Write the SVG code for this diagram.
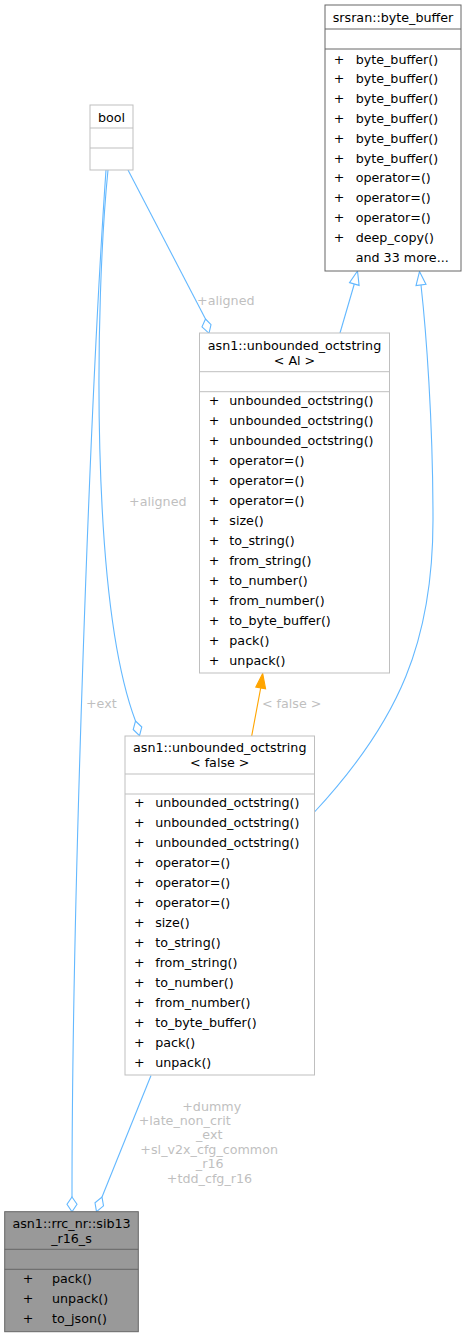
<svg xmlns="http://www.w3.org/2000/svg" width="467" height="1337" viewBox="0 0 467 1337">
<style>
text{font-family:"DejaVu Sans","Noto Sans",sans-serif;font-size:12.7px;fill:#000}
.t{text-anchor:middle}
.lb{fill:#bfbfbf;text-anchor:middle}
.box{fill:#fff;stroke:#bfbfbf;stroke-width:1}
.dk{fill:#fff;stroke:#666;stroke-width:1}
.sel{fill:#999;stroke:#666;stroke-width:1}
.sep{stroke:#bfbfbf;stroke-width:1}
.sepd{stroke:#666;stroke-width:1}
.e{fill:none;stroke:#63b8ff;stroke-width:1.1}
.ah{fill:#fff;stroke:#63b8ff;stroke-width:1.1}
.o{fill:none;stroke:#ffa500;stroke-width:1.1}
.oh{fill:#ffa500;stroke:#ffa500;stroke-width:1.1}
</style>
<rect width="467" height="1337" fill="#fff"/>
<g id="connectors">
<path class="e" d="M340,333 L354.3,284"/>
<polygon class="ah" points="357.5,271 359.1,285.4 349.5,282.6"/>
<path class="e" d="M314.5,812 C400,720 433,640 433,520 C433,420 426,330 421,285"/>
<polygon class="ah" points="419.5,271.5 426,284.4 416,285.6"/>
<path class="e" d="M128,170 L205.5,319"/>
<polygon class="ah" points="205.5,319 211,324.6 209,333.3 202,326.8"/>
<text class="lb" x="225.8" y="304.5">+aligned</text>
<path class="e" d="M108,170 C95,300 90,600 135.5,721"/>
<polygon class="ah" points="135.5,721 141.8,727 139.5,735.7 133.2,729.5"/>
<text class="lb" x="157.8" y="506">+aligned</text>
<path class="e" d="M106,170 C90,400 72,900 72,1197"/>
<polygon class="ah" points="72,1197 77,1204.3 72,1211.7 67,1204.3"/>
<text class="lb" x="101.3" y="707.5">+ext</text>
<path class="o" d="M251.7,736 L260.7,688"/>
<polygon class="oh" points="262.7,673.5 265.6,688.9 255.8,687.1"/>
<text class="lb" x="291.7" y="707.5">&lt; false &gt;</text>
<path class="e" d="M151,1075.5 L102,1197"/>
<polygon class="ah" points="102,1197 103.5,1205.9 96.5,1211.7 95,1202.8"/>
<text class="lb" x="211.7" y="1110.5">+dummy</text>
<text class="lb" x="184.7" y="1124.8">+late_non_crit</text>
<text class="lb" x="209.2" y="1139.3">_ext</text>
<text class="lb" x="209.2" y="1154.3">+sl_v2x_cfg_common</text>
<text class="lb" x="209.7" y="1168.3">_r16</text>
<text class="lb" x="209.5" y="1182.5">+tdd_cfg_r16</text>
</g>
<g id="node_byte_buffer">
<rect class="dk" x="325" y="5" width="136" height="266"/>
<line class="sepd" x1="325" y1="29" x2="461" y2="29"/>
<line class="sepd" x1="325" y1="49" x2="461" y2="49"/>
<text class="t" x="393" y="21.5">srsran::byte_buffer</text>
<g class="t">
<text x="339" y="63.5">+</text><text x="339" y="83.3">+</text><text x="339" y="103.1">+</text><text x="339" y="122.9">+</text><text x="339" y="142.7">+</text><text x="339" y="162.5">+</text><text x="339" y="182.3">+</text><text x="339" y="202.1">+</text><text x="339" y="221.9">+</text><text x="339" y="241.7">+</text>
</g>
<text x="355.7" y="63.5">byte_buffer()</text>
<text x="355.7" y="83.3">byte_buffer()</text>
<text x="355.7" y="103.1">byte_buffer()</text>
<text x="355.7" y="122.9">byte_buffer()</text>
<text x="355.7" y="142.7">byte_buffer()</text>
<text x="355.7" y="162.5">byte_buffer()</text>
<text x="355.7" y="182.3">operator=()</text>
<text x="355.7" y="202.1">operator=()</text>
<text x="355.7" y="221.9">operator=()</text>
<text x="355.7" y="241.7">deep_copy()</text>
<text x="355.7" y="261.5">and 33 more...</text>
</g>
<g id="node_bool">
<rect class="box" x="90" y="105" width="43" height="65"/>
<line class="sep" x1="90" y1="128" x2="133" y2="128"/>
<line class="sep" x1="90" y1="148" x2="133" y2="148"/>
<text class="t" x="111.5" y="121.5">bool</text>
</g>
<g id="node_octstring_Al">
<rect class="box" x="199.5" y="333" width="190" height="340"/>
<line class="sep" x1="199.5" y1="371.7" x2="389.5" y2="371.7"/>
<line class="sep" x1="199.5" y1="391.7" x2="389.5" y2="391.7"/>
<text class="t" x="294.5" y="349.5">asn1::unbounded_octstring</text>
<text class="t" x="294.5" y="364.5">&lt; Al &gt;</text>
<g class="t">
<text x="214" y="405.2">+</text><text x="214" y="425.2">+</text><text x="214" y="445.2">+</text><text x="214" y="465.2">+</text><text x="214" y="485.2">+</text><text x="214" y="505.2">+</text><text x="214" y="525.2">+</text><text x="214" y="545.2">+</text><text x="214" y="565.2">+</text><text x="214" y="585.2">+</text><text x="214" y="605.2">+</text><text x="214" y="625.2">+</text><text x="214" y="645.2">+</text><text x="214" y="665.2">+</text>
</g>
<text x="229.3" y="405.2">unbounded_octstring()</text>
<text x="229.3" y="425.2">unbounded_octstring()</text>
<text x="229.3" y="445.2">unbounded_octstring()</text>
<text x="229.3" y="465.2">operator=()</text>
<text x="229.3" y="485.2">operator=()</text>
<text x="229.3" y="505.2">operator=()</text>
<text x="229.3" y="525.2">size()</text>
<text x="229.3" y="545.2">to_string()</text>
<text x="229.3" y="565.2">from_string()</text>
<text x="229.3" y="585.2">to_number()</text>
<text x="229.3" y="605.2">from_number()</text>
<text x="229.3" y="625.2">to_byte_buffer()</text>
<text x="229.3" y="645.2">pack()</text>
<text x="229.3" y="665.2">unpack()</text>
</g>
<g id="node_octstring_false">
<rect class="box" x="125" y="736" width="189.5" height="339"/>
<line class="sep" x1="125" y1="774" x2="314.5" y2="774"/>
<line class="sep" x1="125" y1="794" x2="314.5" y2="794"/>
<text class="t" x="219.75" y="752.3">asn1::unbounded_octstring</text>
<text class="t" x="219.75" y="767">&lt; false &gt;</text>
<g class="t">
<text x="139.3" y="807.2">+</text><text x="139.3" y="827.2">+</text><text x="139.3" y="847.2">+</text><text x="139.3" y="867.2">+</text><text x="139.3" y="887.2">+</text><text x="139.3" y="907.2">+</text><text x="139.3" y="927.2">+</text><text x="139.3" y="947.2">+</text><text x="139.3" y="967.2">+</text><text x="139.3" y="987.2">+</text><text x="139.3" y="1007.2">+</text><text x="139.3" y="1027.2">+</text><text x="139.3" y="1047.2">+</text><text x="139.3" y="1067.2">+</text>
</g>
<text x="155.2" y="807.2">unbounded_octstring()</text>
<text x="155.2" y="827.2">unbounded_octstring()</text>
<text x="155.2" y="847.2">unbounded_octstring()</text>
<text x="155.2" y="867.2">operator=()</text>
<text x="155.2" y="887.2">operator=()</text>
<text x="155.2" y="907.2">operator=()</text>
<text x="155.2" y="927.2">size()</text>
<text x="155.2" y="947.2">to_string()</text>
<text x="155.2" y="967.2">from_string()</text>
<text x="155.2" y="987.2">to_number()</text>
<text x="155.2" y="1007.2">from_number()</text>
<text x="155.2" y="1027.2">to_byte_buffer()</text>
<text x="155.2" y="1047.2">pack()</text>
<text x="155.2" y="1067.2">unpack()</text>
</g>
<g id="node_sib13">
<rect class="sel" x="4.7" y="1211.7" width="133.6" height="120"/>
<line class="sepd" x1="4.7" y1="1249.3" x2="138.3" y2="1249.3"/>
<line class="sepd" x1="4.7" y1="1269.3" x2="138.3" y2="1269.3"/>
<text class="t" x="71.5" y="1227.5">asn1::rrc_nr::sib13</text>
<text class="t" x="71.5" y="1242.5">_r16_s</text>
<g class="t">
<text x="28" y="1282.8">+</text><text x="28" y="1302.8">+</text><text x="28" y="1322.8">+</text>
</g>
<text x="52" y="1282.8">pack()</text>
<text x="52" y="1302.8">unpack()</text>
<text x="52" y="1322.8">to_json()</text>
</g>
</svg>
